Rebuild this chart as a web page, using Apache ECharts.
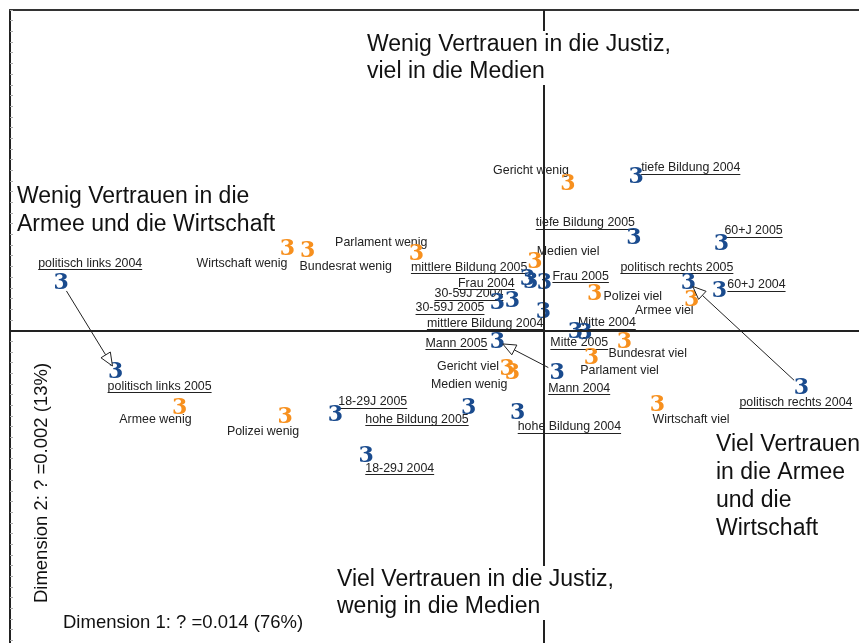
<!DOCTYPE html>
<html>
<head>
<meta charset="utf-8">
<script src="https://cdn.jsdelivr.net/npm/echarts@6/dist/echarts.min.js"></script>
<style>
  html, body { margin: 0; padding: 0; background: #fff; }
  #chart { width: 859px; height: 643px; }
</style>
</head>
<body>
<div id="chart"></div>
<script>
// rows: groups of respondents (blue)
const rowNames = [
    "politisch links 2004", "politisch links 2005",
    "politisch rechts 2004", "politisch rechts 2005",
    "tiefe Bildung 2004", "tiefe Bildung 2005",
    "mittlere Bildung 2004", "mittlere Bildung 2005",
    "hohe Bildung 2004", "hohe Bildung 2005",
    "18-29J 2004", "18-29J 2005",
    "30-59J 2004", "30-59J 2005",
    "60+J 2004", "60+J 2005",
    "Frau 2004", "Frau 2005",
    "Mann 2004", "Mann 2005",
    "Mitte 2004", "Mitte 2005",
];
const rowDim1 = [-0.452, -0.401, 0.242, 0.136, 0.087, 0.085, 0.000, -0.015, -0.024, -0.070,
    -0.166, -0.195, -0.029, -0.043, 0.165, 0.167, -0.012, 0.001, 0.013, -0.043, 0.039, 0.030];
const rowDim2 = [0.045, -0.038, -0.053, 0.045, 0.144, 0.087, 0.018, 0.049, -0.077, -0.072,
    -0.117, -0.078, 0.028, 0.026, 0.038, 0.082, 0.046, 0.045, -0.039, -0.010, -0.002, -0.001];

// columns: trust in institutions (orange)
const colNames = [
    "Gericht wenig", "Gericht viel",
    "Parlament wenig", "Parlament viel",
    "Bundesrat wenig", "Bundesrat viel",
    "Wirtschaft wenig", "Wirtschaft viel",
    "Armee wenig", "Armee viel",
    "Polizei wenig", "Polizei viel",
    "Medien wenig", "Medien viel",
];
const colDim1 = [0.023, -0.034, -0.119, 0.045, -0.221, 0.076, -0.240, 0.107,
    -0.341, 0.139, -0.242, 0.048, -0.029, -0.008];
const colDim2 = [0.138, -0.035, 0.072, -0.025, 0.075, -0.010, 0.077, -0.069,
    -0.072, 0.029, -0.080, 0.035, -0.039, 0.065];

// 2004 -> 2005 shifts drawn as arrows
const arrowPairs = [
    ["politisch links 2004", "politisch links 2005"],
    ["politisch rechts 2004", "politisch rechts 2005"],
    ["Mann 2004", "Mann 2005"],
];

// label placement: [dx, dy, align] relative to the marker
const rowLabelPlace = [
    [-23, -19, "left"], [-8, 15, "left"],
    [-62, 15, "left"], [-68, -15, "left"],
    [5, -9, "left"], [1, -15, "right"],
    [0, 12, "right"], [0, -11, "right"],
    [0, 14, "left"], [0, 12, "right"],
    [-1, 13, "left"], [3, -12, "left"],
    [-9, -7, "right"], [-13, 5, "right"],
    [8, -5, "left"], [3, -12, "left"],
    [-16, 2, "right"], [8, -6, "left"],
    [-9, 16, "left"], [-10, 2, "right"],
    [-7, -10, "left"], [-25, 11, "left"],
];
const colLabelPlace = [
    [1, -12, "right"], [-8, -1, "right"],
    [11, -11, "right"], [-11, 13, "left"],
    [-8, 16, "left"], [-16, 12, "left"],
    [0, 15, "right"], [-5, 15, "left"],
    [12, 12, "right"], [2, 11, "right"],
    [14, 16, "right"], [9, 3, "left"],
    [-5, 12, "right"], [2, -9, "left"],
];

const BLUE = "#1a4b8e";
const ORANGE = "#f7901e";
const SANS = '"Liberation Sans", Arial, sans-serif';
const LABEL_SIZE = 12.4;

const measureCtx = document.createElement("canvas").getContext("2d");
measureCtx.font = LABEL_SIZE + "px " + SANS;
const textWidth = (t) => measureCtx.measureText(t).width;

const pointRenderer = (names, places, color, underline) => (params, api) => {
    const i = params.dataIndex;
    const p = api.coord([api.value(0), api.value(1)]);
    const [dx, dy, align] = places[i];
    const lx = p[0] + dx;
    const ly = p[1] + dy;
    const children = [
        {
            type: "text",
            z2: 5,
            style: {
                text: "3", x: p[0], y: p[1] + 1,
                align: "center", verticalAlign: "middle",
                fontFamily: '"DejaVu Serif", "Liberation Serif", serif',
                fontWeight: "bold", fontSize: 22, fill: color,
            },
        },
        {
            type: "text",
            z2: 1,
            style: {
                text: names[i], x: lx, y: ly,
                align: align, verticalAlign: "middle",
                fontFamily: SANS, fontSize: LABEL_SIZE, fill: "#222",
                backgroundColor: "#fff",
            },
        },
    ];
    if (underline) {
        const w = textWidth(names[i]);
        const x0 = align === "left" ? lx : align === "right" ? lx - w : lx - w / 2;
        const uy = Math.round(ly + 6) + 0.5;
        children.push({
            type: "line",
            z2: 2,
            shape: { x1: x0, y1: uy, x2: x0 + w, y2: uy },
            style: { stroke: "#222", lineWidth: 1 },
        });
    }
    return { type: "group", children };
};

const arrowRenderer = (params, api) => {
    const a = api.coord([api.value(0), api.value(1)]);
    const b = api.coord([api.value(2), api.value(3)]);
    const dx = b[0] - a[0];
    const dy = b[1] - a[1];
    const len = Math.hypot(dx, dy);
    const ux = dx / len, uy = dy / len;
    const nx = -uy, ny = ux;
    const start = [a[0] + ux * 10, a[1] + uy * 10];
    const tip = [b[0] - ux * 6, b[1] - uy * 6];
    const headLen = 13, headW = 5.5;
    const base = [tip[0] - ux * headLen, tip[1] - uy * headLen];
    return {
        type: "group",
        children: [
            {
                type: "line", z2: 8,
                shape: { x1: start[0], y1: start[1], x2: base[0], y2: base[1] },
                style: { stroke: "#222", lineWidth: 1 },
            },
            {
                type: "polygon", z2: 8,
                shape: {
                    points: [
                        tip,
                        [base[0] + nx * headW, base[1] + ny * headW],
                        [base[0] - nx * headW, base[1] - ny * headW],
                    ],
                },
                style: { fill: "#fff", stroke: "#222", lineWidth: 1 },
            },
        ],
    };
};

const arrowData = arrowPairs.map(([from, to]) => {
    const i = rowNames.indexOf(from);
    const j = rowNames.indexOf(to);
    return [rowDim1[i], rowDim2[i], rowDim1[j], rowDim2[j]];
});

const quadrantText = (x, y, text, lineHeight) => ({
    type: "text",
    x: x,
    y: y,
    z: 20,
    style: {
        text: text,
        fontFamily: SANS,
        fontSize: 23,
        lineHeight: lineHeight,
        fill: "#111",
        backgroundColor: "#fff",
        verticalAlign: "top",
    },
});

const chart = echarts.init(document.getElementById("chart"));

chart.setOption({
    animation: false,
    backgroundColor: "#fff",
    grid: { left: 10, top: 10, width: 864, height: 641, outerBoundsMode: "none" },
    xAxis: {
        type: "value",
        min: -0.5,
        max: 0.31,
        position: "top",
        axisLine: { show: true, onZero: false, lineStyle: { color: "#333", width: 2 } },
        axisTick: { show: false },
        axisLabel: { show: false },
        splitLine: { show: false },
    },
    yAxis: {
        type: "value",
        min: -0.3,
        max: 0.3,
        interval: 0.01,
        position: "left",
        axisLine: { show: true, onZero: false, lineStyle: { color: "#222", width: 2 } },
        axisTick: { show: true, inside: true, length: 3, lineStyle: { color: "#aaa" } },
        axisLabel: { show: false },
        splitLine: { show: false },
    },
    graphic: [
        quadrantText(367, 31, "Wenig Vertrauen in die Justiz,\nviel in die Medien", 27),
        quadrantText(17, 183, "Wenig Vertrauen in die\nArmee und die Wirtschaft", 28),
        quadrantText(716, 431, "Viel Vertrauen\nin die Armee\nund die\nWirtschaft", 28),
        quadrantText(337, 566, "Viel Vertrauen in die Justiz,\nwenig in die Medien", 27),
        {
            type: "text",
            x: 63,
            y: 623,
            z: 20,
            style: {
                text: "Dimension 1: ? =0.014 (76%)",
                fontFamily: SANS, fontSize: 18.5, fill: "#111",
                verticalAlign: "middle",
            },
        },
        {
            type: "text",
            x: 42,
            y: 483,
            rotation: Math.PI / 2,
            z: 20,
            style: {
                text: "Dimension 2: ? =0.002 (13%)",
                fontFamily: SANS, fontSize: 18.5, fill: "#111",
                align: "center", verticalAlign: "middle",
            },
        },
    ],
    series: [
        {
            // the two principal axes through the origin
            type: "line",
            data: [],
            z: 1,
            silent: true,
            markLine: {
                silent: true,
                symbol: "none",
                label: { show: false },
                lineStyle: { color: "#222", width: 2, type: "solid" },
                data: [{ xAxis: 0 }, { yAxis: 0 }],
            },
        },
        {
            name: "Gruppen",
            type: "custom",
            z: 2,
            data: rowDim1.map((x, i) => [x, rowDim2[i]]),
            encode: { x: 0, y: 1 },
            renderItem: pointRenderer(rowNames, rowLabelPlace, BLUE, true),
        },
        {
            name: "Vertrauen",
            type: "custom",
            z: 2,
            data: colDim1.map((x, i) => [x, colDim2[i]]),
            encode: { x: 0, y: 1 },
            renderItem: pointRenderer(colNames, colLabelPlace, ORANGE, false),
        },
        {
            name: "Veränderung",
            type: "custom",
            z: 2,
            data: arrowData,
            encode: { x: [0, 2], y: [1, 3] },
            renderItem: arrowRenderer,
        },
    ],
});
</script>
</body>
</html>
